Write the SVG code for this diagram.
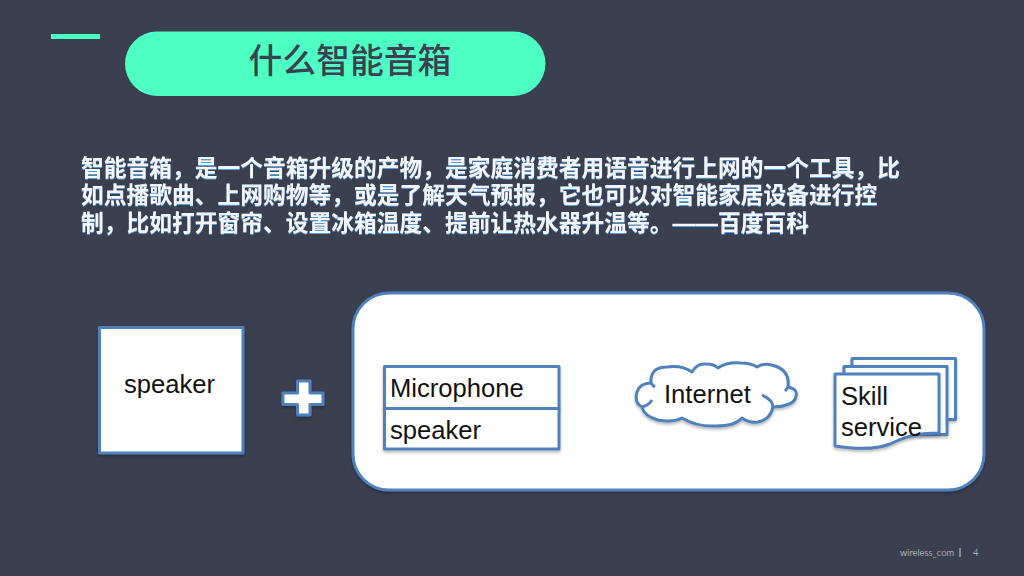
<svg xmlns="http://www.w3.org/2000/svg" width="1024" height="576" viewBox="0 0 1024 576">
<style>
.shape{fill:#fff;stroke:#4f81bd;stroke-width:3;filter:url(#sh);stroke-linejoin:round}
.lbl{font-family:"Liberation Sans",Arial,sans-serif;font-size:25.6px;fill:#111}
.body{font-family:"Noto Sans CJK SC",sans-serif;font-size:22.75px;font-weight:700;fill:#f2f7fd;filter:url(#glow)}
.dash{font-family:"Liberation Sans","Noto Sans CJK SC",sans-serif}
.foot{font-family:"Lato",sans-serif;font-size:9.5px;font-weight:300;fill:#e4e6ea}
</style>
<defs>
<filter id="sh" x="-10%" y="-10%" width="120%" height="125%"><feDropShadow dx="0" dy="2" stdDeviation="1.5" flood-color="#000" flood-opacity="0.28"/></filter>
<filter id="glow" x="-2%" y="-10%" width="104%" height="125%"><feDropShadow dx="0" dy="1" stdDeviation="0.6" flood-color="#5b9bd5" flood-opacity="1"/></filter>
</defs>
<rect width="1024" height="576" fill="#3b4051"/>
<g id="accent"><rect x="51" y="34" width="49" height="5" fill="#4dffc3"/></g>
<g id="title">
<rect x="125" y="31.500" width="420.500" height="64.500" rx="32.200" fill="#4dffc3"/>
<text x="248.500" y="72.500" font-family="'Noto Sans CJK SC',sans-serif" font-size="33.800" font-weight="500" fill="#3b4051">什么智能音箱</text>
</g>
<g id="description">
<text class="body"><tspan x="81" y="175.500">智能音箱&#xFF0C;是一个音箱升级的产物&#xFF0C;是家庭消费者用语音进行上网的一个工具&#xFF0C;比</tspan><tspan x="81" y="203">如点播歌曲、上网购物等&#xFF0C;或是了解天气预报&#xFF0C;它也可以对智能家居设备进行控</tspan><tspan x="81" y="230.500">制&#xFF0C;比如打开窗帘、设置冰箱温度、提前让热水器升温等。<tspan class="dash">——</tspan>百度百科</tspan></text>
</g>
<g id="speaker-box">
<rect class="shape" x="99.500" y="327.500" width="143.500" height="125.500"/>
<text class="lbl" x="124" y="393">speaker</text>
</g>
<g id="plus">
<path class="shape" d="M297.500 381H310V393H323V404.500H310V415H297.500V404.500H283V393H297.500Z"/>
</g>
<g id="device-panel">
<rect class="shape" x="353" y="293" width="631" height="197" rx="36"/>
</g>
<g id="microphone">
<rect class="shape" x="384.500" y="366.500" width="174.500" height="42"/>
<text class="lbl" x="390" y="397">Microphone</text>
</g>
<g id="speaker-inner">
<rect class="shape" x="384.500" y="408.500" width="174.500" height="40.500"/>
<text class="lbl" x="390" y="439">speaker</text>
</g>
<g id="internet">
<path class="shape" d="M651 383Q650 367 667 367Q682 365 692 372Q697 363 706 364Q714 364 718 368Q727 362 740 363Q751 363 757 367Q764 362 775 366Q790 371 788 387Q798 389 796 396Q795 406 773 407Q770 420 758 422Q749 423 742 418Q735 426 716 426Q697 427 682 418Q672 423 658 420Q644 416 642 407Q634 403 637 392Q640 383 651 383Z"/>
<path d="M642 407Q648 406 652 400M651 383Q653 386 655 387M788 387Q787 389 785 391M773 407Q773 400 762 395" fill="none" stroke="#4f81bd" stroke-width="3"/>
<text class="lbl" x="664" y="403">Internet</text>
</g>
<g id="skill-service">
<rect class="shape" x="852" y="358.500" width="103.500" height="61"/>
<rect class="shape" x="844" y="366.500" width="103" height="68"/>
<path class="shape" d="M835 374H939V433C915 433 905 437 890 444C875 450 855 449 835 446Z"/>
<text class="lbl" x="841" y="405">Skill</text>
<text class="lbl" x="841" y="436">service</text>
</g>
<g id="footer">
<text class="foot" x="900" y="556">wireless_com</text>
<rect x="959.500" y="548" width="1" height="9" fill="#d4d6db"/>
<text class="foot" x="973" y="556">4</text>
</g>
</svg>
